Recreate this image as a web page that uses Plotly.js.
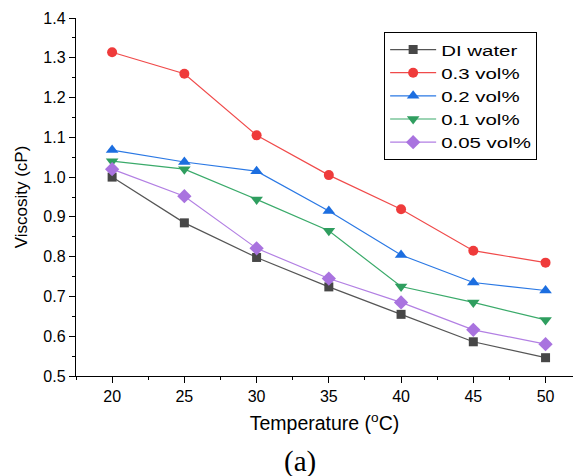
<!DOCTYPE html>
<html><head><meta charset="utf-8">
<script src="https://cdn.plot.ly/plotly-3.0.1.min.js"></script>
<style>html,body{margin:0;padding:0;background:#fff}#c{width:573px;height:476px}
.legendtext{transform-box:fill-box;transform-origin:0 50%;transform:scaleX(1.32)}</style>
</head><body><div id="c"></div>
<script>
const temps = [20, 25, 30, 35, 40, 45, 50];
const diWater = [1.0, 0.885, 0.798, 0.724, 0.655, 0.586, 0.546];
const vol03 = [1.314, 1.26, 1.105, 1.005, 0.919, 0.815, 0.785];
const vol02 = [1.068, 1.038, 1.015, 0.915, 0.804, 0.735, 0.715];
const vol01 = [1.04, 1.02, 0.944, 0.865, 0.725, 0.685, 0.641];
const vol005 = [1.02, 0.952, 0.821, 0.745, 0.685, 0.616, 0.580];
const names = ['DI water', '0.3 vol%', '0.2 vol%', '0.1 vol%', '0.05 vol%'];

const series = [
  {y: diWater, line: '#555555', marker: '#474747', symbol: 'square', size: 9},
  {y: vol03, line: '#f04a4a', marker: '#ef3b3b', symbol: 'circle', size: 10},
  {y: vol02, line: '#2a78e4', marker: '#1c6ee0', symbol: 'triangle-up', size: 11},
  {y: vol01, line: '#3aaa6a', marker: '#2f9e5f', symbol: 'triangle-down', size: 11},
  {y: vol005, line: '#b27fe3', marker: '#a973df', symbol: 'diamond', size: 11}
];
const traces = series.map((s, i) => ({
  x: temps, y: s.y, name: names[i], type: 'scatter', mode: 'lines+markers',
  line: {color: s.line, width: 1.2},
  marker: {color: s.marker, symbol: s.symbol, size: s.size}
}));

const font = {family: 'Liberation Sans, Arial, sans-serif', color: '#000'};
const layout = {
  width: 573, height: 476,
  margin: {l: 76, r: 0, t: 18, b: 100},
  paper_bgcolor: '#fff', plot_bgcolor: '#fff',
  font: font,
  showlegend: true,
  legend: {x: 0.62, y: 0.961, xanchor: 'left', yanchor: 'top',
    bordercolor: '#000', borderwidth: 1, bgcolor: '#fff',
    font: {family: font.family, size: 15.5, color: '#000'},
    tracegroupgap: 0, itemwidth: 46},
  xaxis: {
    range: [17.5, 51.9], tickmode: 'linear', tick0: 20, dtick: 5,
    showgrid: false, zeroline: false, showline: true, linecolor: '#000', linewidth: 1.2,
    ticks: 'outside', ticklen: 6, tickcolor: '#000', tickwidth: 1,
    minor: {ticks: 'outside', ticklen: 3, dtick: 2.5, tick0: 17.5, tickcolor: '#000', showgrid: false},
    tickfont: {family: font.family, size: 16, color: '#000'},
    title: {text: 'Temperature (<sup>o</sup>C)', font: {family: font.family, size: 19.5, color: '#000'}, standoff: 12}
  },
  yaxis: {
    range: [0.5, 1.4], tickmode: 'linear', tick0: 0.5, dtick: 0.1, tickformat: '.1f',
    showgrid: false, zeroline: false, showline: true, linecolor: '#000', linewidth: 1.2,
    ticks: 'outside', ticklen: 6, tickcolor: '#000', tickwidth: 1,
    minor: {ticks: 'outside', ticklen: 3, dtick: 0.05, tick0: 0.5, tickcolor: '#000', showgrid: false},
    tickfont: {family: font.family, size: 16, color: '#000'},
    title: {text: 'Viscosity (cP)', font: {family: font.family, size: 17, color: '#000'}, standoff: 11}
  },
  annotations: [{
    text: '(a)', xref: 'paper', yref: 'paper', x: 0.45, y: -0.24,
    xanchor: 'center', yanchor: 'middle', showarrow: false,
    font: {family: 'Liberation Serif, Times New Roman, serif', size: 29, color: '#000'}
  }]
};
Plotly.newPlot('c', traces, layout, {displayModeBar: false, staticPlot: true});
</script></body></html>
